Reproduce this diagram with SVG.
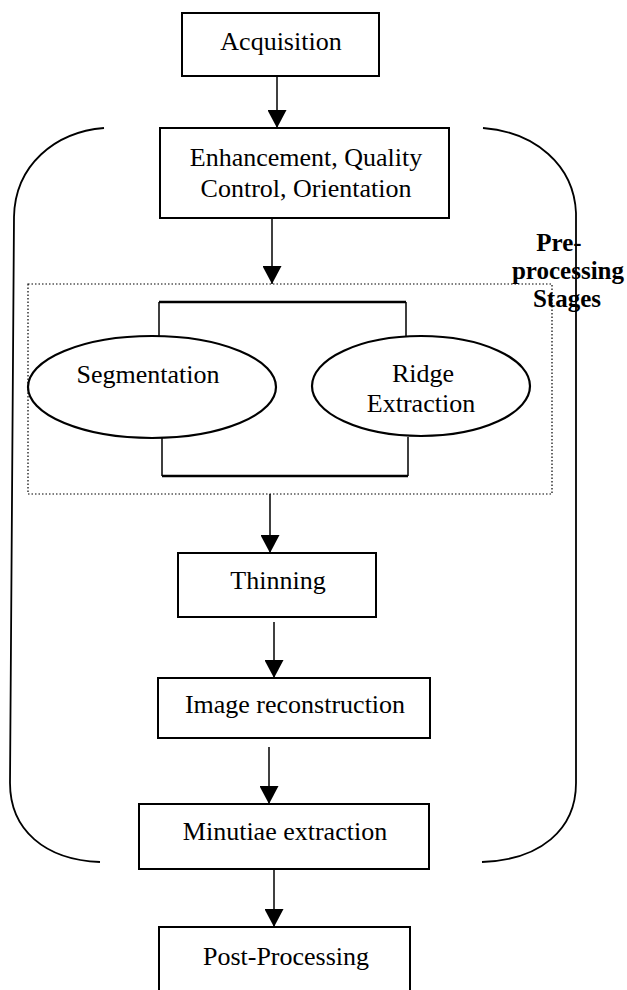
<svg xmlns="http://www.w3.org/2000/svg" width="627" height="990" viewBox="0 0 627 990">
<defs>
<marker id="ah" viewBox="0 0 18 19" refX="18" refY="9.5" markerWidth="18" markerHeight="19" markerUnits="userSpaceOnUse" orient="auto">
<path d="M0,0 L18,9.5 L0,19 Z" fill="#000"/>
</marker>
</defs>
<style>
.box{fill:#fff;stroke:#000;stroke-width:2}
.ell{fill:#fff;stroke:#000;stroke-width:2.2}
.t{font-family:"Liberation Serif","Times New Roman",serif;font-size:26px;fill:#000;text-anchor:middle}
.lb{font-family:"Liberation Serif","Times New Roman",serif;font-size:25px;font-weight:bold;fill:#000;text-anchor:middle}
.ln{fill:none;stroke:#000;stroke-width:1.5}
.br{fill:none;stroke:#000;stroke-width:1.8}
.thick{fill:none;stroke:#000;stroke-width:2.6}
.dot{fill:none;stroke:#000;stroke-width:1.2;stroke-dasharray:1.5 2}
</style>
<rect width="627" height="990" fill="#fff"/>
<g id="brackets">
<path class="br" d="M104,128 C55,132 15,165 14,217 L10,783 C10,830 45,860 100,862"/>
<path class="br" d="M483,128 C535,132 574,165 576,213 L576,783 C576,830 540,860 482,862"/>
</g>
<g id="preprocessing-group">
<rect class="dot" x="28" y="284" width="524" height="210"/>
</g>
<g id="connectors">
<line class="ln" x1="277" y1="76" x2="277" y2="128" marker-end="url(#ah)"/>
<line class="ln" x1="272" y1="218" x2="272" y2="284" marker-end="url(#ah)"/>
<path class="ln" d="M159,337 L159,302 M406,302 L406,336"/>
<line class="thick" x1="159" y1="302" x2="406" y2="302"/>
<path class="ln" d="M162,438 L162,476 M408,437 L408,476"/>
<line class="thick" x1="162" y1="476" x2="408" y2="476"/>
<line class="ln" x1="270" y1="494" x2="270" y2="553" marker-end="url(#ah)"/>
<line class="ln" x1="274" y1="622" x2="274" y2="678" marker-end="url(#ah)"/>
<line class="ln" x1="269" y1="747" x2="269" y2="804" marker-end="url(#ah)"/>
<line class="ln" x1="274" y1="869" x2="274" y2="927" marker-end="url(#ah)"/>
</g>
<g id="acquisition">
<rect class="box" x="182" y="13" width="197" height="63"/>
<text class="t" x="281" y="50">Acquisition</text>
</g>
<g id="enhancement">
<rect class="box" x="160" y="128" width="289" height="90"/>
<text class="t" x="306" y="166">Enhancement, Quality</text>
<text class="t" x="306" y="197">Control, Orientation</text>
</g>
<g id="segmentation">
<ellipse class="ell" cx="152" cy="387" rx="124" ry="51"/>
<text class="t" x="148" y="383">Segmentation</text>
</g>
<g id="ridge-extraction">
<ellipse class="ell" cx="421" cy="386" rx="109" ry="50"/>
<text class="t" x="423" y="382">Ridge</text>
<text class="t" x="421" y="412">Extraction</text>
</g>
<g id="thinning">
<rect class="box" x="178" y="553" width="198" height="64"/>
<text class="t" x="278" y="589">Thinning</text>
</g>
<g id="image-reconstruction">
<rect class="box" x="158" y="678" width="272" height="60"/>
<text class="t" x="295" y="713">Image reconstruction</text>
</g>
<g id="minutiae-extraction">
<rect class="box" x="139" y="804" width="290" height="65"/>
<text class="t" x="285" y="840">Minutiae extraction</text>
</g>
<g id="post-processing">
<rect class="box" x="159" y="927" width="251" height="80"/>
<text class="t" x="286" y="965">Post-Processing</text>
</g>
<g id="stage-label">
<text class="lb" x="559" y="251">Pre-</text>
<text class="lb" x="568" y="279">processing</text>
<text class="lb" x="567" y="307">Stages</text>
</g>
</svg>
